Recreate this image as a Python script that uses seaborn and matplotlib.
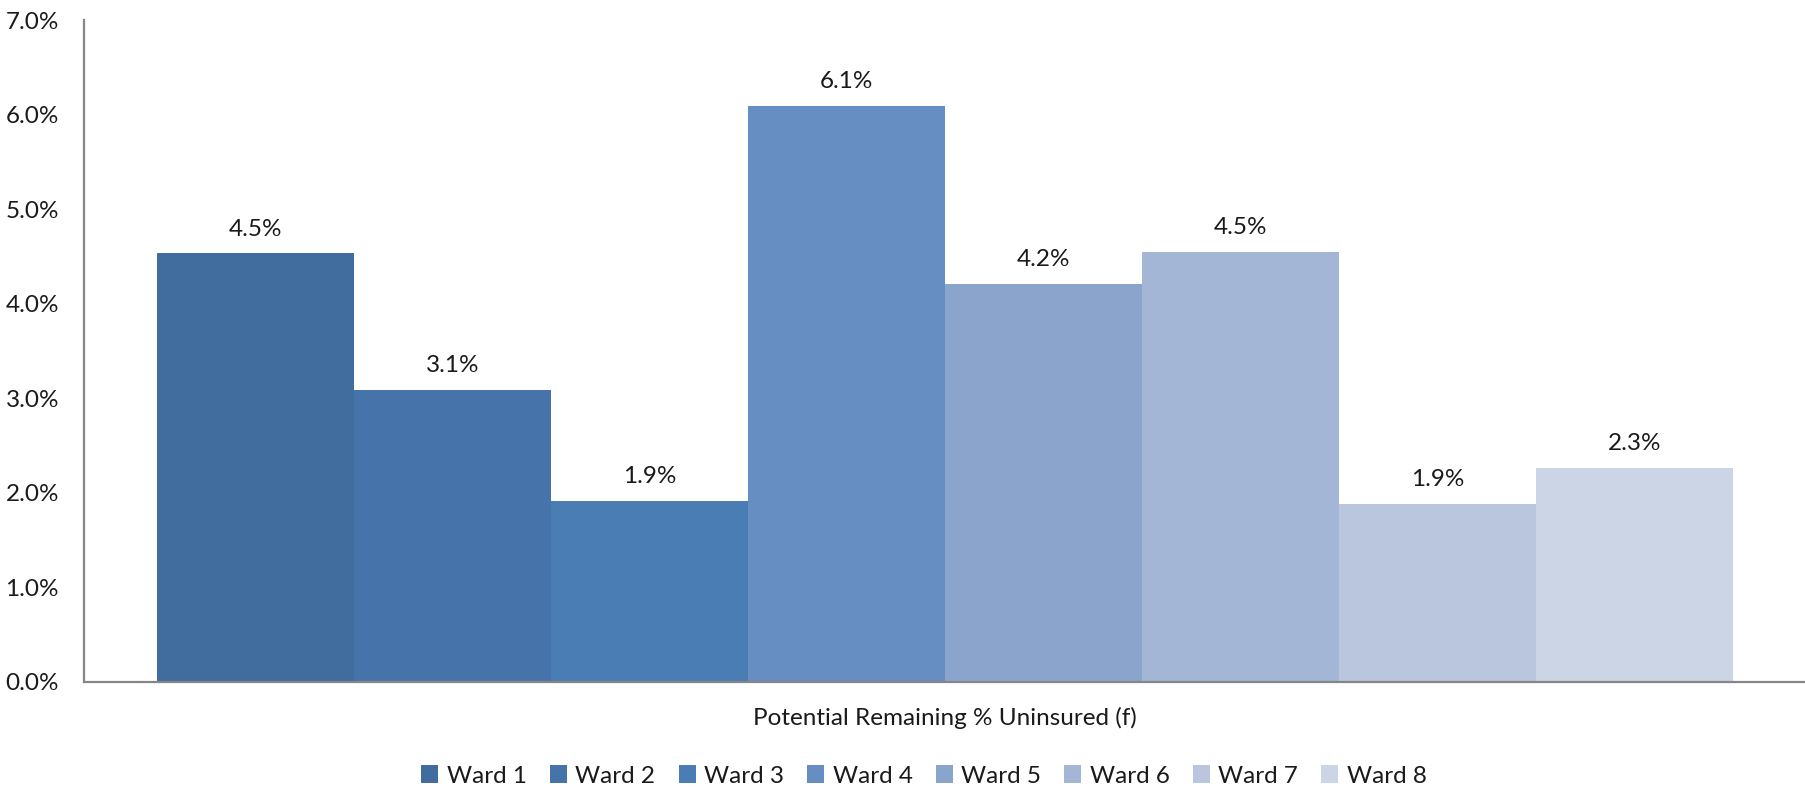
import matplotlib
matplotlib.use("Agg")
import matplotlib.pyplot as plt
import seaborn as sns
import pandas as pd

categories = ["Potential Remaining % Uninsured (f)"]
wards = ["Ward 1", "Ward 2", "Ward 3", "Ward 4", "Ward 5", "Ward 6", "Ward 7", "Ward 8"]
values = [4.53, 3.09, 1.91, 6.09, 4.21, 4.55, 1.88, 2.26]
labels = ["4.5%", "3.1%", "1.9%", "6.1%", "4.2%", "4.5%", "1.9%", "2.3%"]
colors = ["#416C9E", "#4674AA", "#4B7DB5", "#668EC2", "#8AA4CB", "#A3B6D6", "#B9C6DE", "#CCD5E5"]
yticks = [0, 1, 2, 3, 4, 5, 6, 7]

sns.set_theme(style="white")
plt.rcParams["font.family"] = ["Lato", "DejaVu Sans"]

df = pd.DataFrame({"cat": categories * len(wards), "ward": wards, "value": values})

FS = 17.5

fig = plt.figure(figsize=(18.06, 7.94), dpi=100)
ax = fig.add_axes([84 / 1806, 1 - 681.7 / 794, 1 - 84 / 1806, (681.7 - 20) / 794])

sns.barplot(data=df, x="cat", y="value", hue="ward", palette=colors, width=0.915,
            saturation=1, linewidth=0, dodge=True, ax=ax, errorbar=None)

for cont, lab in zip(ax.containers, labels):
    ax.bar_label(cont, labels=[lab], padding=10, fontsize=FS, color="#1a1a1a")

ax.set_xlim(-0.5, 0.5)
ax.set_ylim(0, 7)
ax.set_yticks(yticks)
ax.set_yticklabels([f"{v:.1f}%" for v in yticks], fontsize=FS, color="#1a1a1a")
ax.tick_params(axis="y", length=0, pad=18)
ax.tick_params(axis="x", length=0, pad=18, labelsize=FS, labelcolor="#1a1a1a")
ax.set_xlabel("")
ax.set_ylabel("")

for s in ["top", "right"]:
    ax.spines[s].set_visible(False)
for s in ["left", "bottom"]:
    ax.spines[s].set_color("#868686")
    ax.spines[s].set_linewidth(1.6)

handles, leg_labels = ax.get_legend_handles_labels()
if ax.get_legend() is not None:
    ax.get_legend().remove()
fig.legend(handles, leg_labels, loc="center", bbox_to_anchor=(924 / 1806, 1 - 776 / 794),
           ncol=8, frameon=False, fontsize=FS, handlelength=0.7, handleheight=0.7,
           handletextpad=0.35, columnspacing=0.95, labelcolor="#1a1a1a")

fig.savefig("out.png", dpi=100)
